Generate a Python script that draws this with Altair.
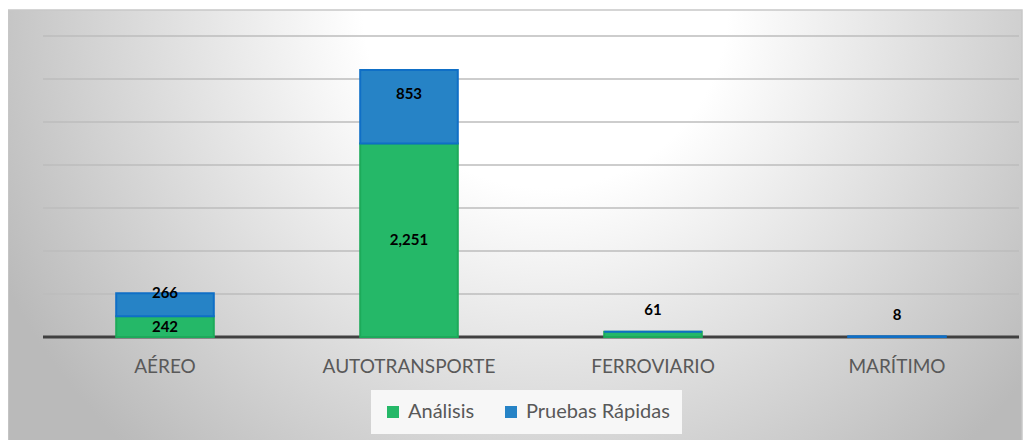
import altair as alt
import pandas as pd

categories = ["AÉREO", "AUTOTRANSPORTE", "FERROVIARIO", "MARÍTIMO"]
series = ["Análisis", "Pruebas Rápidas"]
analisis = [242, 2251, 61, 0]
pruebas = [266, 853, 0, 8]
y_ticks = [0, 500, 1000, 1500, 2000, 2500, 3000, 3500]

rows = []
for i, c in enumerate(categories):
    base = 0
    for k, (s, vals) in enumerate(zip(series, [analisis, pruebas])):
        v = vals[i]
        rows.append({"cat": c, "serie": s, "value": v, "start": base, "end": base + v,
                     "total": analisis[i] + pruebas[i], "ord": k})
        base += v
df = pd.DataFrame(rows)

W, H = 976, 301
FONT = "Lato"
fills = ["#25B868", "#2683C6"]
strokes = ["#1DAA5A", "#0F6FC6"]

xenc = alt.X("cat:N", sort=categories,
             scale=alt.Scale(paddingInner=0.6, paddingOuter=0.3),
             axis=alt.Axis(title=None, labelFontSize=19, labelColor="#595959", labelFont=FONT,
                           labelPadding=20, ticks=False, domain=False,
                           labelAngle=0, grid=False, zindex=1))
yscale = alt.Scale(domain=[0, 3500], nice=False)

bg = alt.Chart(pd.DataFrame({"b": [0]})).mark_rect(
    fill={"gradient": "radial", "x1": 0.53, "y1": 0.28, "r1": 0, "x2": 0.53, "y2": 0.28, "r2": 0.6,
          "stops": [{"offset": 0, "color": "#FFFFFF"}, {"offset": 0.3, "color": "#FFFFFF"},
                    {"offset": 1, "color": "#BABABA"}]},
    stroke="#C8C8C8", strokeWidth=1.5
).encode(x=alt.value(-35), x2=alt.value(W + 3), y=alt.value(-26), y2=alt.value(H + 110))

grid_df = pd.DataFrame({"t": y_ticks})
grid = alt.Chart(grid_df).transform_filter("datum.t > 0").mark_rule(
    color="#BCBCBC", strokeWidth=1.3).encode(y=alt.Y("t:Q", scale=yscale, axis=None))
baseline = alt.Chart(grid_df).transform_filter("datum.t == 0").mark_rule(
    color="#404040", strokeWidth=3).encode(y=alt.Y("t:Q", scale=yscale, axis=None))

bars = alt.Chart(df).mark_bar(strokeWidth=2).encode(
    x=xenc,
    y=alt.Y("start:Q", scale=yscale, axis=None),
    y2="end:Q",
    color=alt.Color("serie:N", scale=alt.Scale(domain=series, range=fills),
                    legend=alt.Legend(title=None, orient="none", legendX=328, legendY=354,
                                      direction="horizontal", symbolType="square", symbolSize=144,
                                      symbolStrokeWidth=0, labelFont=FONT, labelFontSize=20,
                                      labelColor="#595959", columnPadding=26, padding=12,
                                      labelOffset=5, fillColor="#F7F7F7", symbolOpacity=1,
                                      labelLimit=300)),
    stroke=alt.Stroke("serie:N", scale=alt.Scale(domain=series, range=strokes), legend=None),
    order=alt.Order("ord:Q"),
)

labels = alt.Chart(df).transform_filter("datum.value > 0").transform_calculate(
    ly="datum.value >= 100 ? (datum.serie == 'Análisis' ? (datum.start + datum.end) / 2 : datum.end - max(0, datum.value - 500) * 0.8) : datum.total + 250"
).mark_text(font=FONT, fontSize=15, fontWeight="bold", color="#000000", baseline="middle").encode(
    x=alt.X("cat:N", sort=categories), y=alt.Y("ly:Q", scale=yscale, axis=None),
    text=alt.Text("value:Q", format=",d"))

chart = alt.layer(bg, grid, baseline, bars, labels).properties(
    width=W, height=H, autosize="none",
    padding={"left": 35, "top": 28, "right": 6, "bottom": 103},
).configure_view(stroke=None)

chart.save("out.html", embed_options={"renderer": "svg", "actions": False})
